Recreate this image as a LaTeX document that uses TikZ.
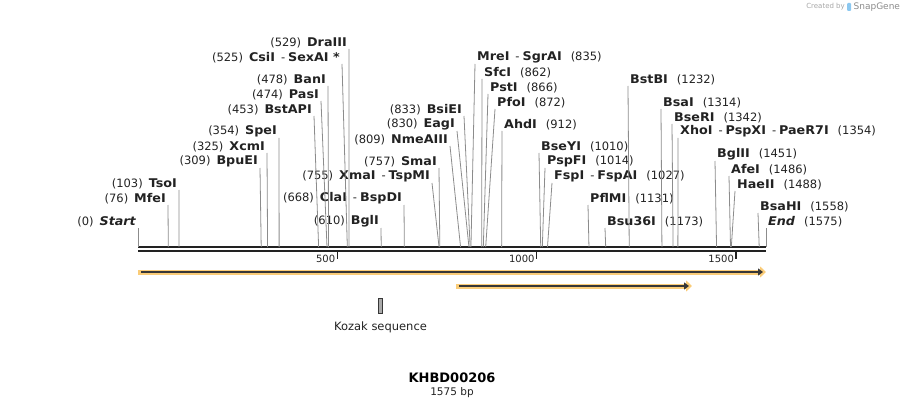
\documentclass[tikz,border=0pt]{standalone}
\usepackage{fontspec}
\setmainfont{DejaVu Sans}
\newfontfamily\widebold{DejaVu Sans}[FakeStretch=1.06]
\usepackage{tikz}
\usetikzlibrary{calc,arrows.meta,positioning}

\definecolor{cutgray}{RGB}{140,140,140}
\definecolor{seqdark}{RGB}{34,34,34}
\definecolor{featorange}{RGB}{250,204,120}
\definecolor{featdark}{RGB}{55,55,55}
\definecolor{kozakfill}{RGB}{170,170,170}
\definecolor{sgblue}{RGB}{140,200,240}

\newcommand{\enz}[1]{{\widebold\bfseries\fontsize{12}{14}\selectfont #1}}

\tikzset{
  lbl/.style={font=\fontsize{11.5}{13}\selectfont, text=seqdark, inner xsep=2pt, inner ysep=0.5pt},
  cut/.style={draw=cutgray, line width=0.8pt},
  seq/.style={draw=seqdark, line width=2.2pt},
  tick/.style={draw=seqdark, line width=1.4pt},
  ticklbl/.style={font=\fontsize{10}{12}\selectfont, text=seqdark, inner sep=1.5pt},
  featglow/.style={draw=featorange, line width=5pt, -{Triangle[length=6pt,width=11pt]}},
  featline/.style={draw=featdark, line width=1.8pt, -{Triangle[length=5pt,width=7pt]}, shorten <=3pt, shorten >=3pt},
}

\begin{document}
\begin{tikzpicture}[x=1pt,y=-1pt]
    \useasboundingbox (0,0) rectangle (905,409);

    % sequence
    \coordinate (seqL) at (138,247);
    \coordinate (seqR) at (766,247);
    \coordinate (botL) at (138,251);
    \coordinate (botR) at (766,251);
    \draw [seq] (seqL) -- (seqR);
    \draw [seq] (botL) -- (botR);
    \draw [tick] ($(botL)!500/1575!(botR)$) -- ++(0,8) node [ticklbl, anchor=east] {500};
    \draw [tick] ($(botL)!1000/1575!(botR)$) -- ++(0,8) node [ticklbl, anchor=east] {1000};
    \draw [tick] ($(botL)!1500/1575!(botR)$) -- ++(0,8) node [ticklbl, anchor=east] {1500};

    % sites on the left
    \node (startlbl) [lbl, anchor=south east] at (138,228) {(0)\hspace{6pt}\enz{\itshape Start}};
    \node (mfeI) [lbl, anchor=south east] at (168,205) {(76)\hspace{6pt}\enz{MfeI}};
    \node (tsoI) [lbl, anchor=south east] at (179,190) {(103)\hspace{6pt}\enz{TsoI}};
    \node (bpuEI) [lbl, anchor=south east] at (260,168) {(309)\hspace{6pt}\enz{BpuEI}};
    \node (xcmI) [lbl, anchor=south east] at (267,153) {(325)\hspace{6pt}\enz{XcmI}};
    \node (speI) [lbl, anchor=south east] at (279,138) {(354)\hspace{6pt}\enz{SpeI}};
    \node (bstAPI) [lbl, anchor=south east] at (314,116) {(453)\hspace{6pt}\enz{BstAPI}};
    \node (pasI) [lbl, anchor=south east] at (321,101) {(474)\hspace{6pt}\enz{PasI}};
    \node (banI) [lbl, anchor=south east] at (328,86) {(478)\hspace{6pt}\enz{BanI}};
    \node (csiI) [lbl, anchor=south east] at (342,64) {(525)\hspace{6pt}\enz{CsiI}\hspace{6pt}-\hspace{3pt}\enz{SexAI *}};
    \node (draIII) [lbl, anchor=south east] at (349,49) {(529)\hspace{6pt}\enz{DraIII}};
    \node (bglI) [lbl, anchor=south east] at (381,228) {(610)\hspace{6pt}\enz{BglI}};
    \node (claI) [lbl, anchor=south east] at (404,205) {(668)\hspace{6pt}\enz{ClaI}\hspace{6pt}-\hspace{3pt}\enz{BspDI}};
    \node (xmaI) [lbl, anchor=south east] at (432,183) {(755)\hspace{6pt}\enz{XmaI}\hspace{6pt}-\hspace{3pt}\enz{TspMI}};
    \node (smaI) [lbl, anchor=south east] at (439,168) {(757)\hspace{6pt}\enz{SmaI}};
    \node (nmeAIII) [lbl, anchor=south east] at (450,146) {(809)\hspace{6pt}\enz{NmeAIII}};
    \node (eagI) [lbl, anchor=south east] at (457,131) {(830)\hspace{6pt}\enz{EagI}};
    \node (bsiEI) [lbl, anchor=south east] at (464,116) {(833)\hspace{6pt}\enz{BsiEI}};

    \draw [cut] (startlbl.south east) -- ($(seqL)!0/1575!(seqR)$);
    \draw [cut] (mfeI.south east) -- ($(seqL)!76/1575!(seqR)$);
    \draw [cut] (tsoI.south east) -- ($(seqL)!103/1575!(seqR)$);
    \draw [cut] (bpuEI.south east) -- ($(seqL)!309/1575!(seqR)$);
    \draw [cut] (xcmI.south east) -- ($(seqL)!325/1575!(seqR)$);
    \draw [cut] (speI.south east) -- ($(seqL)!354/1575!(seqR)$);
    \draw [cut] (bstAPI.south east) -- ($(seqL)!453/1575!(seqR)$);
    \draw [cut] (pasI.south east) -- ($(seqL)!474/1575!(seqR)$);
    \draw [cut] (banI.south east) -- ($(seqL)!478/1575!(seqR)$);
    \draw [cut] (csiI.south east) -- ($(seqL)!525/1575!(seqR)$);
    \draw [cut] (draIII.south east) -- ($(seqL)!529/1575!(seqR)$);
    \draw [cut] (bglI.south east) -- ($(seqL)!610/1575!(seqR)$);
    \draw [cut] (claI.south east) -- ($(seqL)!668/1575!(seqR)$);
    \draw [cut] (xmaI.south east) -- ($(seqL)!755/1575!(seqR)$);
    \draw [cut] (smaI.south east) -- ($(seqL)!757/1575!(seqR)$);
    \draw [cut] (nmeAIII.south east) -- ($(seqL)!809/1575!(seqR)$);
    \draw [cut] (eagI.south east) -- ($(seqL)!830/1575!(seqR)$);
    \draw [cut] (bsiEI.south east) -- ($(seqL)!833/1575!(seqR)$);

    % sites on the right
    \node (mreI) [lbl, anchor=south west] at (475,64) {\enz{MreI}\hspace{6pt}-\hspace{3pt}\enz{SgrAI}\hspace{9pt}(835)};
    \node (sfcI) [lbl, anchor=south west] at (482,79) {\enz{SfcI}\hspace{9pt}(862)};
    \node (pstI) [lbl, anchor=south west] at (488,94) {\enz{PstI}\hspace{9pt}(866)};
    \node (pfoI) [lbl, anchor=south west] at (495,109) {\enz{PfoI}\hspace{9pt}(872)};
    \node (ahdI) [lbl, anchor=south west] at (502,131) {\enz{AhdI}\hspace{9pt}(912)};
    \node (bseYI) [lbl, anchor=south west] at (539,153) {\enz{BseYI}\hspace{9pt}(1010)};
    \node (pspFI) [lbl, anchor=south west] at (545,168) {\enz{PspFI}\hspace{9pt}(1014)};
    \node (fspI) [lbl, anchor=south west] at (552,183) {\enz{FspI}\hspace{6pt}-\hspace{3pt}\enz{FspAI}\hspace{9pt}(1027)};
    \node (pflMI) [lbl, anchor=south west] at (588,205) {\enz{PflMI}\hspace{9pt}(1131)};
    \node (bsu36I) [lbl, anchor=south west] at (605,228) {\enz{Bsu36I}\hspace{9pt}(1173)};
    \node (bstBI) [lbl, anchor=south west] at (628,86) {\enz{BstBI}\hspace{9pt}(1232)};
    \node (bsaI) [lbl, anchor=south west] at (661,109) {\enz{BsaI}\hspace{9pt}(1314)};
    \node (bseRI) [lbl, anchor=south west] at (672,124) {\enz{BseRI}\hspace{9pt}(1342)};
    \node (xhoI) [lbl, anchor=south west] at (678,138) {\enz{XhoI}\hspace{6pt}-\hspace{3pt}\enz{PspXI}\hspace{6pt}-\hspace{3pt}\enz{PaeR7I}\hspace{9pt}(1354)};
    \node (bglII) [lbl, anchor=south west] at (715,161) {\enz{BglII}\hspace{9pt}(1451)};
    \node (afeI) [lbl, anchor=south west] at (729,176) {\enz{AfeI}\hspace{9pt}(1486)};
    \node (haeII) [lbl, anchor=south west] at (735,191) {\enz{HaeII}\hspace{9pt}(1488)};
    \node (bsaHI) [lbl, anchor=south west] at (758,213) {\enz{BsaHI}\hspace{9pt}(1558)};
    \node (endlbl) [lbl, anchor=south west] at (766,228) {\enz{\itshape End}\hspace{9pt}(1575)};

    \draw [cut] (mreI.south west) -- ($(seqL)!835/1575!(seqR)$);
    \draw [cut] (sfcI.south west) -- ($(seqL)!862/1575!(seqR)$);
    \draw [cut] (pstI.south west) -- ($(seqL)!866/1575!(seqR)$);
    \draw [cut] (pfoI.south west) -- ($(seqL)!872/1575!(seqR)$);
    \draw [cut] (ahdI.south west) -- ($(seqL)!912/1575!(seqR)$);
    \draw [cut] (bseYI.south west) -- ($(seqL)!1010/1575!(seqR)$);
    \draw [cut] (pspFI.south west) -- ($(seqL)!1014/1575!(seqR)$);
    \draw [cut] (fspI.south west) -- ($(seqL)!1027/1575!(seqR)$);
    \draw [cut] (pflMI.south west) -- ($(seqL)!1131/1575!(seqR)$);
    \draw [cut] (bsu36I.south west) -- ($(seqL)!1173/1575!(seqR)$);
    \draw [cut] (bstBI.south west) -- ($(seqL)!1232/1575!(seqR)$);
    \draw [cut] (bsaI.south west) -- ($(seqL)!1314/1575!(seqR)$);
    \draw [cut] (bseRI.south west) -- ($(seqL)!1342/1575!(seqR)$);
    \draw [cut] (xhoI.south west) -- ($(seqL)!1354/1575!(seqR)$);
    \draw [cut] (bglII.south west) -- ($(seqL)!1451/1575!(seqR)$);
    \draw [cut] (afeI.south west) -- ($(seqL)!1486/1575!(seqR)$);
    \draw [cut] (haeII.south west) -- ($(seqL)!1488/1575!(seqR)$);
    \draw [cut] (bsaHI.south west) -- ($(seqL)!1558/1575!(seqR)$);
    \draw [cut] (endlbl.south west) -- ($(seqL)!1575/1575!(seqR)$);

    % features
    \coordinate (f1s) at (138,272);
    \coordinate (f1e) at (766,272);
    \coordinate (f2s) at (456,286);
    \coordinate (f2e) at (692,286);
    \draw [featglow] (f1s) -- (f1e);
    \draw [featline] (f1s) -- (f1e);
    \draw [featglow] (f2s) -- (f2e);
    \draw [featline] (f2s) -- (f2e);

    \node (kozak) [draw=featdark, fill=kozakfill, line width=0.6pt, minimum width=4.5pt, minimum height=15pt, inner sep=0pt] at (380.5,306) {};
    \node (kozaklbl) [below=4pt of kozak, font=\fontsize{11.5}{13}\selectfont, text=seqdark] {Kozak sequence};

    % title
    \node (title) [font=\bfseries\fontsize{13}{15}\selectfont] at (452,378) {KHBD00206};
    \node (bp) [below=0pt of title, font=\fontsize{10.5}{12}\selectfont, text=seqdark, inner sep=1pt] {1575 bp};

    % credit
    \node (created) [anchor=east, font=\fontsize{7}{8}\selectfont, text=black!35, inner sep=0pt] at (845,7) {Created by};
    \node (sglogo) [right=2pt of created, fill=sgblue, rounded corners=1pt, minimum width=4pt, minimum height=8pt, inner sep=0pt] {};
    \node (snapgene) [right=2pt of sglogo, font=\fontsize{9}{10}\selectfont, text=black!45, inner sep=0pt] {SnapGene};
\end{tikzpicture}
\end{document}
